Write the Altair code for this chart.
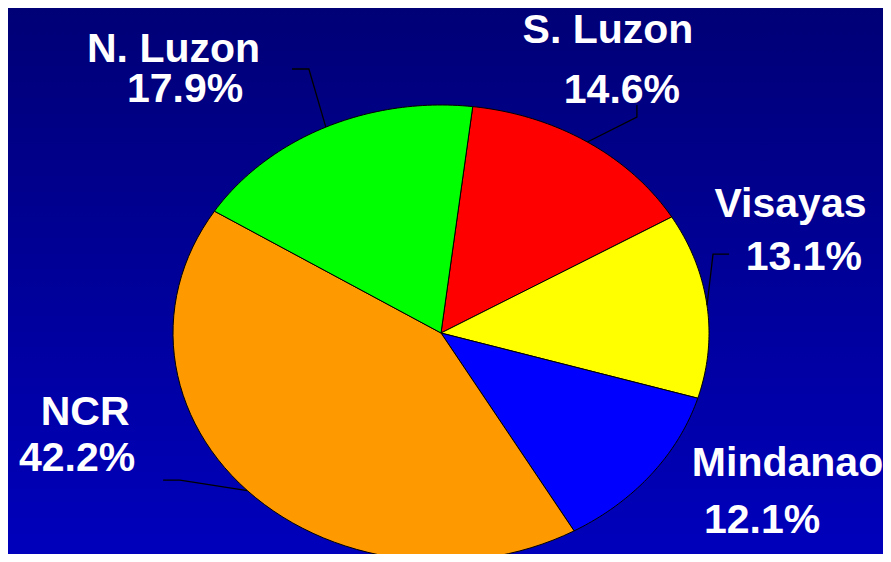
import math
import altair as alt
import numpy as np
import pandas as pd

# ---------------- data ----------------
regions = ["S. Luzon", "Visayas", "Mindanao", "NCR", "N. Luzon"]
shares = [14.6, 13.1, 12.1, 42.2, 17.9]
slice_colors = ["#FF0000", "#FFFF00", "#0000FF", "#FF9900", "#00FF00"]

# ---------------- layout (chart pixels / unit-ellipse coords) ----------------
W, H = 875, 546
CX, CY, RX, RY = 433, 325, 268, 228
START_DEG = 6.8          # first slice boundary, clockwise from 12 o'clock
N_ARC = 60

# label anchors (center, baseline) in unit-ellipse coordinates
name_pos = {
    "N. Luzon": (-0.998, 1.189),
    "S. Luzon": (0.623, 1.272),
    "Visayas": (1.304, 0.509),
    "Mindanao": (1.293, -0.627),
    "NCR": (-1.328, -0.404),
}
pct_pos = {
    "N. Luzon": (-0.955, 1.013),
    "S. Luzon": (0.675, 1.009),
    "Visayas": (1.354, 0.276),
    "Mindanao": (1.198, -0.877),
    "NCR": (-1.358, -0.605),
}
# leader line bends (after the point on the pie edge), unit-ellipse coords
leader_bends = {
    "N. Luzon": [(-0.493, 1.158), (-0.556, 1.158)],
    "S. Luzon": [(0.731, 0.947), (0.731, 1.0)],
    "Visayas": [(1.015, 0.346), (1.075, 0.346)],
    "NCR": [(-0.974, -0.645), (-1.037, -0.645)],
}

x_scale = alt.Scale(domain=[-1, 1], range=[CX - RX, CX + RX], nice=False, zero=False)
y_scale = alt.Scale(domain=[-1, 1], range=[CY + RY, CY - RY], nice=False, zero=False)
fill_scale = alt.Scale(domain=regions, range=slice_colors)

# ---------------- background ----------------
bg = alt.Chart(alt.Data(values=[{}])).mark_rect(
    fill=alt.Gradient(
        gradient="linear",
        stops=[alt.GradientStop(color="#000076", offset=0),
               alt.GradientStop(color="#0000BC", offset=1)],
        x1=0, x2=0, y1=0, y2=1,
    )
).encode(x=alt.value(0), x2=alt.value(W), y=alt.value(0), y2=alt.value(H))

# ---------------- pie (elliptical wedges) ----------------
pie_df = pd.DataFrame({"region": regions, "share": shares, "idx": range(len(regions))})
start = math.radians(START_DEG)
pie = (
    alt.Chart(pie_df)
    .transform_window(cum="sum(share)", sort=[alt.SortField("idx")], frame=[None, 0])
    .transform_joinaggregate(total="sum(share)")
    .transform_calculate(
        a0=f"{start} + 2*PI*(datum.cum - datum.share)/datum.total",
        a1=f"{start} + 2*PI*datum.cum/datum.total",
        k=f"sequence(0, {N_ARC + 3})",
    )
    .transform_flatten(["k"])
    .transform_calculate(
        ang=f"datum.a0 + (datum.a1 - datum.a0)*clamp((datum.k - 1)/{N_ARC}, 0, 1)",
    )
    .transform_calculate(
        u=f"(datum.k == 0 || datum.k == {N_ARC + 2}) ? 0 : sin(datum.ang)",
        v=f"(datum.k == 0 || datum.k == {N_ARC + 2}) ? 0 : cos(datum.ang)",
    )
    .mark_line(stroke="black", strokeWidth=1, strokeJoin="round", interpolate="linear")
    .encode(
        x=alt.X("u:Q", scale=x_scale, axis=None),
        y=alt.Y("v:Q", scale=y_scale, axis=None),
        fill=alt.Fill("region:N", scale=fill_scale, legend=None),
        detail="region:N",
        order="k:Q",
    )
)

# ---------------- leader lines ----------------
cum = np.cumsum(shares)
total = float(np.sum(shares))
rows = []
for i, r in enumerate(regions):
    if r not in leader_bends:
        continue
    mid = start + 2 * math.pi * (cum[i] - shares[i] / 2) / total
    pts = [(math.sin(mid), math.cos(mid))] + leader_bends[r]
    for j, (u, v) in enumerate(pts):
        rows.append({"region": r, "step": j, "u": u, "v": v})
leader_df = pd.DataFrame(rows)
leaders = alt.Chart(leader_df).mark_line(color="black", strokeWidth=1.3).encode(
    x=alt.X("u:Q", scale=x_scale, axis=None),
    y=alt.Y("v:Q", scale=y_scale, axis=None),
    detail="region:N",
    order="step:Q",
)

# ---------------- labels ----------------
lab_rows = []
for r, s in zip(regions, shares):
    lab_rows.append({"text": r, "u": name_pos[r][0], "v": name_pos[r][1]})
    lab_rows.append({"text": f"{s:.1f}%", "u": pct_pos[r][0], "v": pct_pos[r][1]})
lab_df = pd.DataFrame(lab_rows)
labels = alt.Chart(lab_df).mark_text(
    font="Liberation Sans", fontWeight="bold", fontSize=41, color="white",
    align="center", baseline="alphabetic",
).encode(
    x=alt.X("u:Q", scale=x_scale, axis=None),
    y=alt.Y("v:Q", scale=y_scale, axis=None),
    text="text:N",
)

chart = (
    alt.layer(bg, pie, leaders, labels)
    .properties(width=W, height=H, autosize=alt.AutoSizeParams(type="none"), padding=0)
    .configure_view(stroke=None)
    .configure(background="#00009A")
)

chart.save("out.html", embed_options={"renderer": "svg", "actions": False})
